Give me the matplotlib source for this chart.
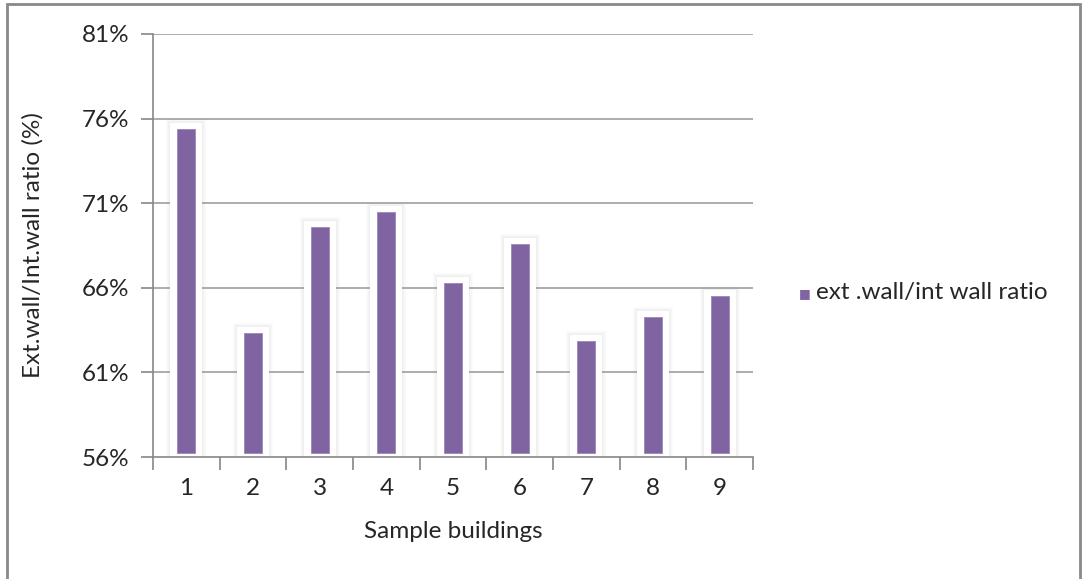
import matplotlib
matplotlib.use("Agg")
import matplotlib.pyplot as plt
from matplotlib.patches import Rectangle
from matplotlib.ticker import FixedLocator, FuncFormatter

plt.rcParams['font.family'] = ['Lato', 'DejaVu Sans']

# Data
buildings = ["1", "2", "3", "4", "5", "6", "7", "8", "9"]
ratio_pct = [75.4, 63.3, 69.6, 70.5, 66.3, 68.6, 62.85, 64.3, 65.5]
series_name = "ext .wall/int wall ratio"
y_ticks = [56, 61, 66, 71, 76, 81]

W, H, DPI = 1084, 579, 100
fig = plt.figure(figsize=(W / DPI, H / DPI), dpi=DPI)
fig.patch.set_facecolor("white")

# plot area in pixel coordinates
L, R, T, B = 153, 753, 34, 457
ax = fig.add_axes([L / W, 1 - B / H, (R - L) / W, (B - T) / H])

ymin, ymax = 56, 81
n = len(buildings)
ax.set_xlim(0, n)
ax.set_ylim(ymin, ymax)

px_x = n / (R - L)              # data units per pixel, x
px_y = (ymax - ymin) / (B - T)  # data units per pixel, y

bar_color = "#8064A2"
bar_w = 18 * px_x
halo_w = 32 * px_x
base = ymin + 4 * px_y
FS = 17.5
TXT = "#262626"

for i, v in enumerate(ratio_pct):
    c = i + 0.5
    # soft grey shadow fringe around the white glow
    for k in range(4, 0, -1):
        pw = halo_w + 2 * k * px_x
        ax.add_patch(Rectangle((c - pw / 2, ymin), pw, (v - ymin) + (6 + k) * px_y,
                               facecolor="#909090", alpha=0.03, edgecolor="none",
                               zorder=1))
    ax.add_patch(Rectangle((c - halo_w / 2, ymin), halo_w, (v - ymin) + 6 * px_y,
                           facecolor="white", edgecolor="none", zorder=1.5))

ax.bar([i + 0.5 for i in range(n)], [v - base for v in ratio_pct], bottom=base,
       width=bar_w, color=bar_color, edgecolor="#9A86B8", linewidth=0.6,
       zorder=2, label=series_name)

# grid and axes
for t in y_ticks[1:]:
    ax.axhline(t, color="#A6A6A6", linewidth=1.3, zorder=0.5)

for s in ["top", "right"]:
    ax.spines[s].set_visible(False)
for s in ["left", "bottom"]:
    ax.spines[s].set_color("#868686")
    ax.spines[s].set_linewidth(1.2)
    ax.spines[s].set_zorder(3)

ax.yaxis.set_major_locator(FixedLocator(y_ticks))
ax.yaxis.set_major_formatter(FuncFormatter(lambda v, p: f"{v:.0f}%"))
ax.xaxis.set_major_locator(FixedLocator([i for i in range(n + 1)]))
ax.xaxis.set_major_formatter(FuncFormatter(lambda v, p: ""))
ax.xaxis.set_minor_locator(FixedLocator([i + 0.5 for i in range(n)]))
ax.xaxis.set_minor_formatter(FuncFormatter(lambda v, p: buildings[int(v)] if 0 <= int(v) < n else ""))

ax.tick_params(axis="y", which="major", direction="out", length=9, width=1.2,
               color="#868686", labelsize=FS, labelcolor=TXT, pad=8)
ax.tick_params(axis="x", which="major", direction="out", length=9, width=1.2,
               color="#868686")
ax.tick_params(axis="x", which="minor", length=0, labelsize=FS,
               labelcolor=TXT, pad=15)

ax.set_ylabel("Ext.wall/Int.wall ratio (%)", fontsize=FS, color=TXT)
ax.set_xlabel("Sample buildings", fontsize=FS, color=TXT)
ax.yaxis.set_label_coords((33 - L) / (R - L), 0.5)
ax.xaxis.set_label_coords((453 - L) / (R - L), -(532 - B) / (B - T))
ax.xaxis.label.set_va("center")
ax.yaxis.label.set_va("center")

# legend
fig.text(799 / W, 1 - 293 / H, "\u25A0", fontsize=9, color=bar_color,
         ha="left", va="center")
fig.text(816 / W, 1 - 293 / H, series_name, fontsize=FS, color=TXT,
         ha="left", va="center")

# outer chart frame
fig.add_artist(Rectangle((7 / W, -0.02), (1080 - 7) / W, 1.02 - 4 / H,
                         transform=fig.transFigure, fill=False,
                         edgecolor="#898989", linewidth=2))

fig.savefig("out.png", dpi=DPI, facecolor="white")
